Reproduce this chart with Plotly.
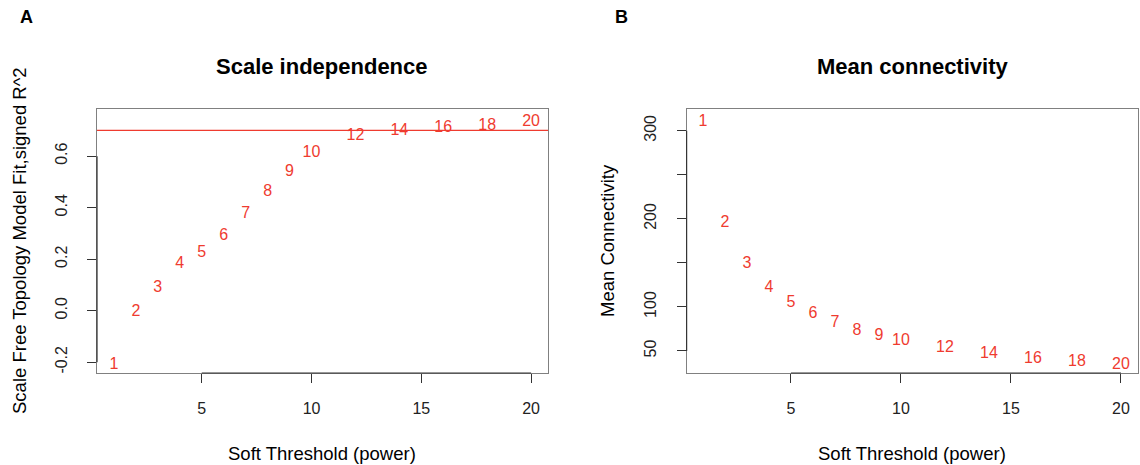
import plotly.graph_objects as go

powers = [1, 2, 3, 4, 5, 6, 7, 8, 9, 10, 12, 14, 16, 18, 20]
sft_r2 = [-0.211, -0.004, 0.087, 0.181, 0.225, 0.290, 0.376, 0.462, 0.540, 0.611,
          0.678, 0.699, 0.708, 0.718, 0.734]
mean_k = [310.2, 195.5, 149.3, 121.6, 104.5, 91.7, 81.8, 72.7, 66.7, 61.4,
          53.4, 46.2, 41.4, 37.2, 34.5]
x_ticks = [5, 10, 15, 20]
a_ticks = [-0.2, 0.0, 0.2, 0.4, 0.6]
a_ticklabels = ["-0.2", "0.0", "0.2", "0.4", "0.6"]
b_ticks = [50, 100, 150, 200, 250, 300]
b_ticklabels = ["50", "100", "", "200", "", "300"]
cutoff = 0.7

RED = "#ef3b2f"
FONT = "Liberation Sans, Arial, sans-serif"
BOX = "#808080"
AXC = "#333333"

fig = go.Figure()
fig.add_trace(go.Scatter(x=powers, y=sft_r2, mode="text", text=[str(p) for p in powers],
                         textposition="middle center",
                         textfont=dict(color=RED, size=16, family=FONT),
                         xaxis="x", yaxis="y", showlegend=False, hoverinfo="skip"))
fig.add_trace(go.Scatter(x=powers, y=mean_k, mode="text", text=[str(p) for p in powers],
                         textposition="middle center",
                         textfont=dict(color=RED, size=16, family=FONT),
                         xaxis="x2", yaxis="y2", showlegend=False, hoverinfo="skip"))

ydom = [0.1978, 0.7656]
common_x = dict(tickmode="array", tickvals=x_ticks, ticktext=[str(t) for t in x_ticks],
                ticks="outside", ticklen=9, tickcolor=AXC, tickwidth=1,
                showgrid=False, zeroline=False, showline=True, linecolor=BOX, linewidth=1,
                mirror=True, tickfont=dict(size=16, family=FONT, color="#222"),
                ticklabelstandoff=12)
common_y = dict(ticks="outside", ticklen=9, tickcolor=AXC, tickwidth=1,
                showgrid=False, zeroline=False, showline=True, linecolor=BOX, linewidth=1,
                mirror=True, tickangle=-90, tickfont=dict(size=16, family=FONT, color="#222"),
                ticklabelstandoff=14)

fig.update_layout(
    width=1140, height=465, margin=dict(l=0, r=0, t=0, b=0),
    paper_bgcolor="white", plot_bgcolor="white",
    xaxis=dict(domain=[0.0851, 0.4807], range=[0.23, 20.77], anchor="y", **common_x),
    yaxis=dict(domain=ydom, range=[-0.242, 0.783], anchor="x",
               tickmode="array", tickvals=a_ticks, ticktext=a_ticklabels, **common_y),
    xaxis2=dict(domain=[0.6023, 0.998], range=[0.26, 20.76], anchor="y2", **common_x),
    yaxis2=dict(domain=ydom, range=[25, 324.7], anchor="x2",
                tickmode="array", tickvals=b_ticks, ticktext=b_ticklabels, **common_y),
)

shapes = [
    dict(type="line", xref="x domain", yref="y", x0=0, x1=1, y0=cutoff, y1=cutoff,
         line=dict(color=RED, width=1.2)),
    # R-style axis lines spanning first to last tick
    dict(type="line", xref="x", yref="y domain", x0=5, x1=20, y0=0, y1=0,
         line=dict(color=AXC, width=1.2)),
    dict(type="line", xref="x domain", yref="y", x0=0, x1=0, y0=-0.2, y1=0.6,
         line=dict(color=AXC, width=1.2)),
    dict(type="line", xref="x2", yref="y2 domain", x0=5, x1=20, y0=0, y1=0,
         line=dict(color=AXC, width=1.2)),
    dict(type="line", xref="x2 domain", yref="y2", x0=0, x1=0, y0=50, y1=300,
         line=dict(color=AXC, width=1.2)),
]
fig.update_layout(shapes=shapes)

ann = [
    dict(text="<b>A</b>", x=26, y=17, size=18),
    dict(text="<b>B</b>", x=621, y=17, size=18),
    dict(text="<b>Scale independence</b>", x=322, y=67, size=22),
    dict(text="<b>Mean connectivity</b>", x=912, y=67, size=22),
    dict(text="Soft Threshold (power)", x=322, y=453, size=18.5),
    dict(text="Soft Threshold (power)", x=912, y=453, size=18.5),
    dict(text="Scale Free Topology Model Fit,signed R^2", x=19, y=241, size=18.5, angle=-90),
    dict(text="Mean Connectivity", x=607, y=241, size=18.5, angle=-90),
]
annotations = []
for a in ann:
    annotations.append(dict(
        text=a["text"], xref="paper", yref="paper",
        x=a["x"] / 1140, y=1 - a["y"] / 465, xanchor="center", yanchor="middle",
        showarrow=False, textangle=a.get("angle", 0),
        font=dict(size=a.get("size", 17), family=FONT, color="black")))
fig.update_layout(annotations=annotations)

fig.write_html("out.html", config={"displayModeBar": False},
               post_script="document.body.style.margin='0';document.body.style.overflow='hidden';")
